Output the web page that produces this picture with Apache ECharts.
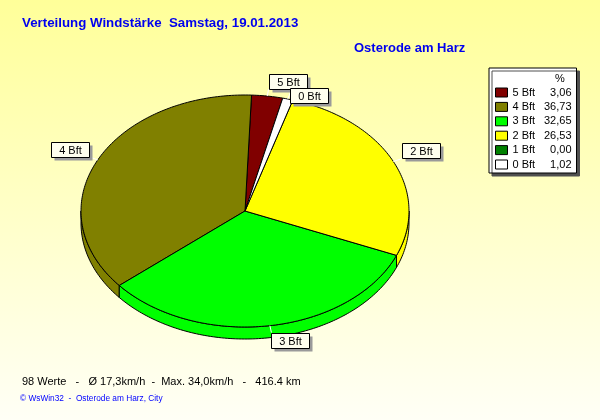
<!DOCTYPE html>
<html>
<head>
<meta charset="utf-8">
<script src="https://cdn.jsdelivr.net/npm/echarts@6/dist/echarts.min.js"></script>
<style>
html,body{margin:0;padding:0;}
#c{width:600px;height:420px;}
</style>
</head>
<body>
<div id="c"></div>
<script>
// ---- data ----
const categories = ['5 Bft', '4 Bft', '3 Bft', '2 Bft', '1 Bft', '0 Bft'];
const percents = [3.06, 36.73, 32.65, 26.53, 0.00, 1.02];
const colors = ['#800000', '#808000', '#00FF00', '#FFFF00', '#008000', '#FFFFFF'];
const titleText = 'Verteilung Windstärke  Samstag, 19.01.2013';
const stationText = 'Osterode am Harz';
const statsText = '98 Werte   -   Ø 17,3km/h  -  Max. 34,0km/h   -   416.4 km';
const footerText = '© WsWin32  -  Osterode am Harz, City';

// ---- layout ----
const FONT = 'Arial, "Liberation Sans", sans-serif';
const CX = 245, CY = 211, RX = 164, RY = 116, DEPTH = 12;
const START = 13.3; // degrees clockwise from top; slices run counter-clockwise
const LBL_W = 38, LBL_H = 15;

const total = percents.reduce((a, b) => a + b, 0);
const rad = d => d * Math.PI / 180;
function pt(t, dy) {
  return [CX + RX * Math.sin(rad(t)), CY - RY * Math.cos(rad(t)) + (dy || 0)];
}
function sliceAngles(i) {
  let before = 0;
  for (let k = 0; k < i; k++) before += percents[k];
  const a2 = START - before / total * 360;
  const a1 = START - (before + percents[i]) / total * 360;
  return [a1, a2];
}
function arc(a, b, dy) {
  const pts = [];
  const n = Math.max(2, Math.ceil((b - a) / 1));
  for (let k = 0; k <= n; k++) pts.push(pt(a + (b - a) * k / n, dy));
  return pts;
}

// label boxes (computed from slice angles, with simple overlap avoidance)
const labelBoxes = [];
categories.forEach((c, i) => {
  if (!(percents[i] > 0)) { labelBoxes.push(null); return; }
  const [a1, a2] = sliceAngles(i);
  const mid = (a1 + a2) / 2;
  const s = Math.sin(rad(mid)), co = Math.cos(rad(mid));
  const e = pt(mid);
  const anchor = [e[0] + s * 10, e[1] - co * 7];
  let x = s >= 0 ? anchor[0] : anchor[0] - LBL_W;
  let y = co >= 0 ? anchor[1] - LBL_H : anchor[1];
  labelBoxes.forEach(b => {
    if (!b) return;
    if (x < b.x + b.w && x + LBL_W > b.x && y < b.y + b.h && y + LBL_H > b.y) {
      y = b.y + b.h - 1;
    }
  });
  labelBoxes.push({x: x, y: y, w: LBL_W, h: LBL_H, e: e, anchor: anchor});
});

function makeRender(i) {
  return function (params, api) {
    const v = api.value(0);
    const children = [];
    if (!(v > 0)) return {type: 'group', children: children};
    const [a1, a2] = sliceAngles(i);
    const color = colors[i];
    // side band (front half only: 90..270 deg)
    for (let k = -2; k <= 1; k++) {
      const lo = Math.max(a1, 90 + 360 * k), hi = Math.min(a2, 270 + 360 * k);
      if (hi > lo) {
        const top = arc(lo, hi, 0);
        const bot = arc(lo, hi, DEPTH).reverse();
        children.push({
          type: 'polygon', z2: 1,
          shape: {points: top.concat(bot)},
          style: {fill: color, stroke: '#000', lineWidth: 1}
        });
      }
    }
    // top face
    children.push({
      type: 'polygon', z2: 2,
      shape: {points: [[CX, CY]].concat(arc(a1, a2, 0))},
      style: {fill: color, stroke: '#000', lineWidth: 1}
    });
    // label
    const b = labelBoxes[i];
    if (b) {
      children.push({
        type: 'line', z2: 10,
        shape: {x1: b.e[0], y1: b.e[1], x2: b.anchor[0], y2: b.anchor[1]},
        style: {stroke: '#FFFFFF', lineWidth: 1}
      });
      children.push({
        type: 'rect', z2: 11 + i * 3,
        shape: {x: Math.round(b.x) + 3.5, y: Math.round(b.y) + 3.5, width: b.w, height: b.h},
        style: {fill: '#9a9a9a'}
      });
      children.push({
        type: 'rect', z2: 12 + i * 3,
        shape: {x: Math.round(b.x) + 0.5, y: Math.round(b.y) + 0.5, width: b.w, height: b.h},
        style: {fill: '#FFFFEE', stroke: '#000', lineWidth: 1}
      });
      children.push({
        type: 'text', z2: 13 + i * 3,
        style: {
          text: categories[i], x: Math.round(b.x) + 0.5 + b.w / 2, y: Math.round(b.y) + 0.5 + b.h / 2 + 0.5,
          align: 'center', verticalAlign: 'middle', fill: '#000', font: '11px ' + FONT
        }
      });
    }
    return {type: 'group', children: children};
  };
}

const fmt = v => v.toFixed(2).replace('.', ',');

const chart = echarts.init(document.getElementById('c'), null, {renderer: 'canvas'});
chart.setOption({
  animation: false,
  backgroundColor: new echarts.graphic.LinearGradient(0, 0, 0, 1, [
    {offset: 0, color: '#FFFF99'},
    {offset: 1, color: '#FFFFF6'}
  ]),
  title: [
    {text: titleText, left: 22, top: 17, padding: 0,
     textStyle: {color: '#0000EE', fontSize: 13.3, fontWeight: 'bold', fontFamily: FONT}},
    {text: stationText, left: 354, top: 42, padding: 0,
     textStyle: {color: '#0000EE', fontSize: 13, fontWeight: 'bold', fontFamily: FONT}},
    {text: statsText, left: 22, top: 376, padding: 0,
     textStyle: {color: '#000', fontSize: 11, fontWeight: 'normal', fontFamily: FONT}},
    {text: footerText, left: 20, top: 395, padding: 0,
     textStyle: {color: '#0000FF', fontSize: 8.3, fontWeight: 'normal', fontFamily: FONT}}
  ],
  legend: {
    data: categories,
    orient: 'vertical',
    left: 489, top: 68,
    padding: [19, 5, 3, 6],
    itemWidth: 12, itemHeight: 9, itemGap: 3.4,
    icon: 'rect',
    selectedMode: false,
    backgroundColor: '#FFFFFF',
    borderColor: '#000', borderWidth: 1,
    shadowColor: '#505050', shadowBlur: 0, shadowOffsetX: 3, shadowOffsetY: 3,
    itemStyle: {borderColor: '#000', borderWidth: 1},
    formatter: name => '{n|' + name + '}{v|' + fmt(percents[categories.indexOf(name)]) + '}',
    textStyle: {
      color: '#000', fontSize: 11, fontFamily: FONT,
      rich: {
        n: {width: 25, fontSize: 11, fontFamily: FONT, color: '#000'},
        v: {width: 34, align: 'right', fontSize: 11, fontFamily: FONT, color: '#000'}
      }
    }
  },
  graphic: [
    {type: 'text', left: 555, top: 73, z: 100,
     style: {text: '%', fill: '#000', font: '11px ' + FONT}}
  ],
  series: categories.map((name, i) => ({
    type: 'custom',
    name: name,
    coordinateSystem: 'none',
    silent: true,
    itemStyle: {color: colors[i]},
    data: [[percents[i]]],
    renderItem: makeRender(i)
  }))
});
</script>
</body>
</html>
